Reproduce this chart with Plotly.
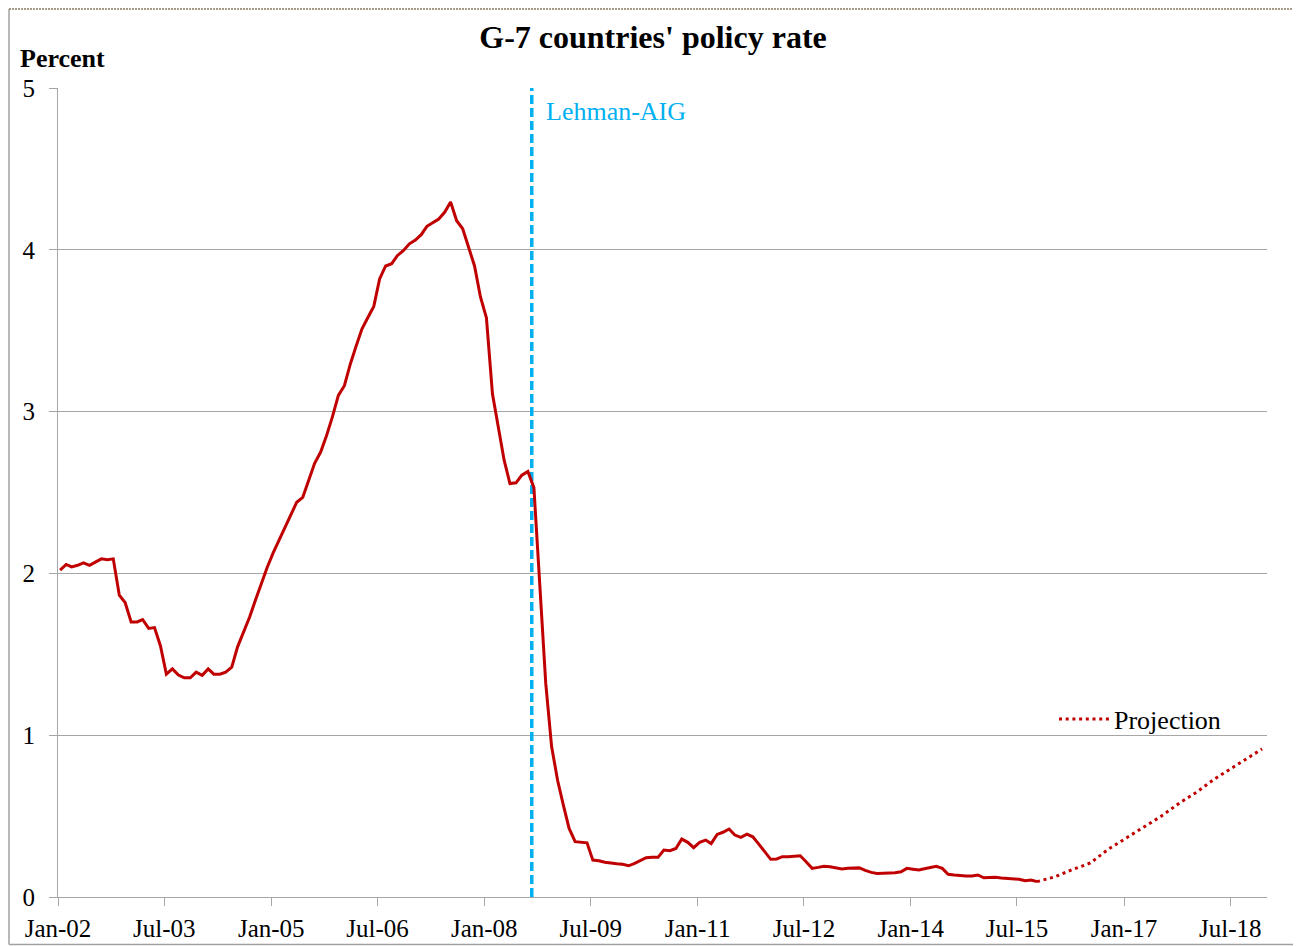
import pandas as pd
import plotly.graph_objects as go

# ---------------- data ----------------
start_month = "2002-01"
rates = [
    2.02, 2.055, 2.04, 2.05, 2.065, 2.05, 2.07, 2.09, 2.085, 2.09, 1.865, 1.82,   # 2002
    1.70, 1.70, 1.715, 1.66, 1.665, 1.55, 1.377, 1.41, 1.372, 1.355, 1.355, 1.39,  # 2003
    1.37, 1.41, 1.377, 1.377, 1.39, 1.42, 1.546, 1.64, 1.73, 1.835, 1.94, 2.04,    # 2004
    2.13, 2.21, 2.28, 2.36, 2.44, 2.47, 2.576, 2.68, 2.75, 2.85, 2.97, 3.10,       # 2005
    3.16, 3.296, 3.40, 3.51, 3.58, 3.65, 3.82, 3.90, 3.914, 3.965, 3.996, 4.037,   # 2006
    4.06, 4.095, 4.145, 4.17, 4.19, 4.233, 4.295, 4.18, 4.13, 4.017, 3.90, 3.71,   # 2007
    3.58, 3.11, 2.915, 2.70, 2.555, 2.56, 2.607, 2.63, 2.53, 1.95, 1.32, 0.93,     # 2008
    0.72, 0.56, 0.424, 0.342, 0.34, 0.335, 0.228, 0.224, 0.215, 0.208, 0.205, 0.202,  # 2009
    0.193, 0.208, 0.225, 0.243, 0.245, 0.245, 0.29, 0.286, 0.30, 0.358, 0.338, 0.305,  # 2010
    0.338, 0.352, 0.33, 0.387, 0.40, 0.42, 0.383, 0.369, 0.389, 0.372, 0.327, 0.284,   # 2011
    0.233, 0.235, 0.249, 0.249, 0.25, 0.255, 0.218, 0.177, 0.183, 0.19, 0.187, 0.18,   # 2012
    0.173, 0.177, 0.177, 0.18, 0.165, 0.152, 0.146, 0.146, 0.146, 0.15, 0.156, 0.177,  # 2013
    0.172, 0.167, 0.175, 0.183, 0.19, 0.177, 0.14, 0.136, 0.132, 0.13, 0.13, 0.136,    # 2014
    0.119, 0.122, 0.122, 0.118, 0.115, 0.112, 0.109, 0.10, 0.105, 0.095,              # 2015 (Jan-Oct)
]

projection_months = ["2015-10", "2016-01", "2016-04", "2016-07", "2016-10", "2017-01",
                     "2017-04", "2017-07", "2017-10", "2018-01", "2018-04", "2018-07",
                     "2018-10", "2018-12"]
projection_values = [0.095, 0.125, 0.17, 0.21, 0.295, 0.365, 0.43, 0.50, 0.58, 0.65,
                     0.73, 0.80, 0.87, 0.915]

lehman_date = "2008-09-01"
lehman_label = "Lehman-AIG"

tick_dates = ["2002-01-01", "2003-07-01", "2005-01-01", "2006-07-01", "2008-01-01",
              "2009-07-01", "2011-01-01", "2012-07-01", "2014-01-01", "2015-07-01",
              "2017-01-01", "2018-07-01"]
tick_labels = ["Jan-02", "Jul-03", "Jan-05", "Jul-06", "Jan-08", "Jul-09", "Jan-11",
               "Jul-12", "Jan-14", "Jul-15", "Jan-17", "Jul-18"]
y_ticks = [0, 1, 2, 3, 4, 5]

# monthly observations plotted a little inside each month slot
obs_dates = pd.date_range(start=start_month, periods=len(rates), freq="MS") + pd.Timedelta(days=11)
proj_dates = pd.to_datetime(projection_months) + pd.Timedelta(days=11)

# ---------------- figure ----------------
W, H = 1301, 946
OFF = 8  # page body margin in the browser
ML, MR, MT, MB = 58 - OFF, 42, 88 - OFF, 57
FONT = "Liberation Serif"
GRID = "#A6A6A6"
RED = "#C00000"
BLUE = "#00B0F0"

fig = go.Figure()

fig.add_trace(go.Scatter(
    x=[pd.Timestamp(lehman_date)] * 2, y=[y_ticks[0], y_ticks[-1]],
    mode="lines", line=dict(color=BLUE, width=3.5, dash="9px,4px"),
    showlegend=False, hoverinfo="skip"))

fig.add_trace(go.Scatter(
    x=obs_dates, y=rates, mode="lines",
    line=dict(color=RED, width=3), showlegend=False, name="Policy rate"))

fig.add_trace(go.Scatter(
    x=proj_dates, y=projection_values, mode="lines",
    line=dict(color=RED, width=3, dash="3px,3.7px"),
    name="Projection", showlegend=True))

pw = W - ML - MR
ph = H - MT - MB


def px_x(p):
    """screen pixel -> paper x"""
    return (p - OFF - ML) / pw


def px_y(p):
    """screen pixel -> paper y"""
    return (H - MB - (p - OFF)) / ph


fig.update_layout(
    width=W, height=H,
    margin=dict(l=ML, r=MR, t=MT, b=MB, pad=0, autoexpand=False),
    paper_bgcolor="white", plot_bgcolor="white",
    font=dict(family=FONT, size=25, color="black"),
    title=dict(text="G-7 countries' policy rate", x=(653 - OFF) / W, xanchor="center",
               y=1 - (37 - OFF) / H, yanchor="middle", yref="container", automargin=False,
               font=dict(family=FONT, size=32, color="black", weight="bold")),
    showlegend=True,
    legend=dict(x=px_x(1054), y=px_y(719), xanchor="left", yanchor="middle",
                bgcolor="rgba(0,0,0,0)", borderwidth=0,
                font=dict(family=FONT, size=26, color="black"),
                itemwidth=50, tracegroupgap=0),
    xaxis=dict(
        type="date", range=["2002-01-01", "2019-01-06"], automargin=False,
        tickmode="array", tickvals=tick_dates, ticktext=tick_labels,
        showgrid=False, showline=True, linecolor=GRID, linewidth=1,
        ticks="outside", ticklen=8, tickcolor=GRID, tickwidth=1,
        tickfont=dict(family=FONT, size=25, color="black"),
        ticklabelstandoff=1, zeroline=False),
    yaxis=dict(
        range=[0, 5], tickmode="array", tickvals=y_ticks, automargin=False,
        showgrid=True, gridcolor=GRID, gridwidth=1,
        showline=True, linecolor=GRID, linewidth=1,
        ticks="outside", ticklen=8, tickcolor=GRID, tickwidth=1,
        tickfont=dict(family=FONT, size=25, color="black"),
        ticklabelstandoff=9, zeroline=False),
    annotations=[
        dict(text="<b>Percent</b>", xref="paper", yref="paper",
             x=px_x(18), y=px_y(59), xanchor="left", yanchor="middle",
             showarrow=False, font=dict(family=FONT, size=26, color="black")),
        dict(text=lehman_label, xref="x", yref="paper", x=pd.Timestamp(lehman_date),
             xshift=12, y=px_y(111), xanchor="left", yanchor="middle",
             showarrow=False, font=dict(family=FONT, size=26, color=BLUE)),
    ],
    shapes=[
        dict(type="line", xref="paper", yref="paper", x0=px_x(9), x1=px_x(9),
             y0=px_y(9), y1=px_y(944.5), line=dict(color="#A0A0A0", width=1.5)),
        dict(type="line", xref="paper", yref="paper", x0=px_x(9), x1=px_x(1301),
             y0=px_y(944.5), y1=px_y(944.5), line=dict(color="#A0A0A0", width=1.5)),
        dict(type="line", xref="paper", yref="paper", x0=px_x(9), x1=px_x(1301),
             y0=px_y(9), y1=px_y(9), line=dict(color="#8B7B60", width=1.5, dash="2px,1px")),
    ],
)

fig.write_html("out.html")
